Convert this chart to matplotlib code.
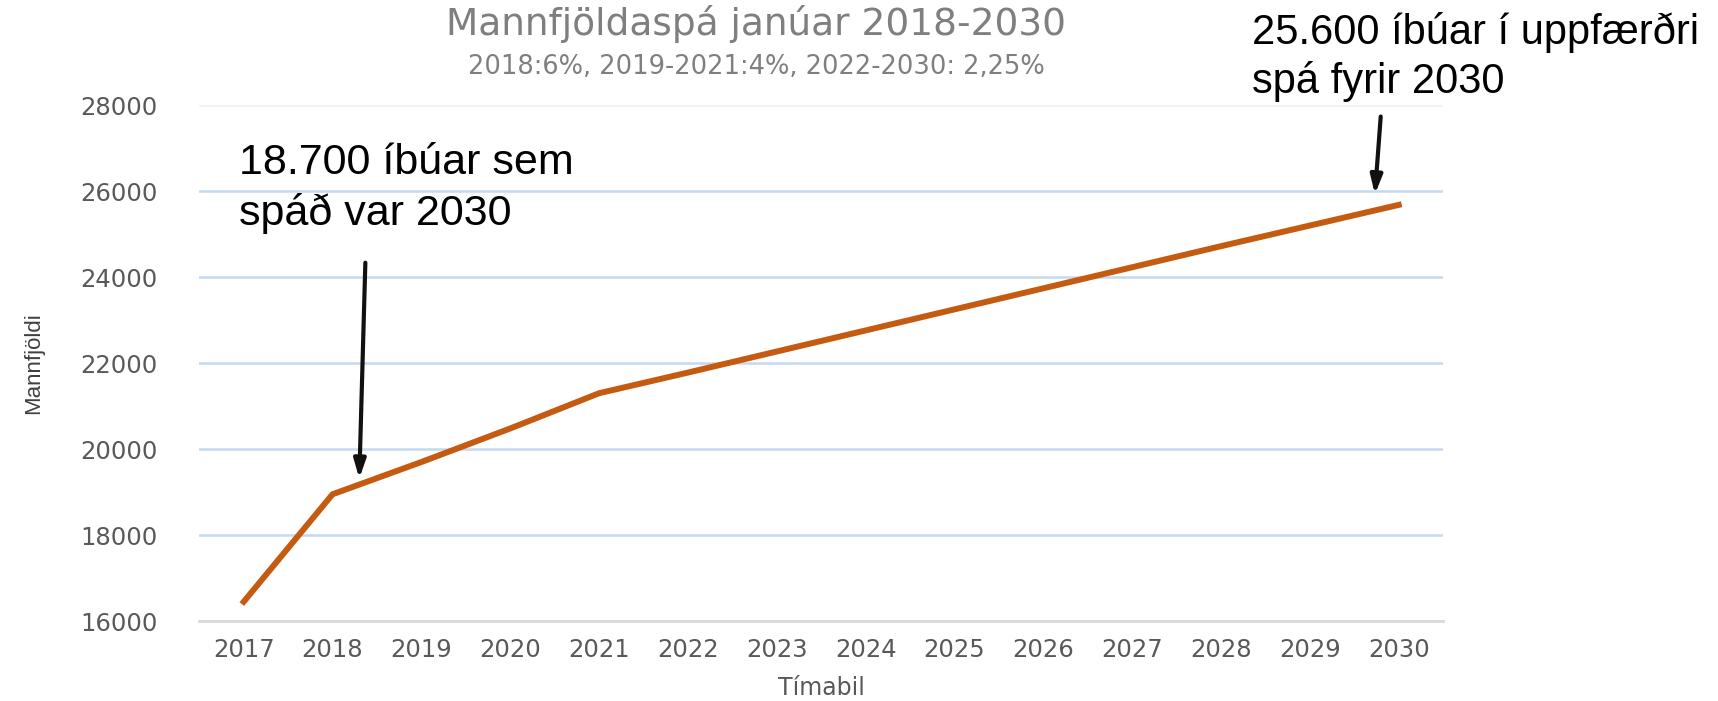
import matplotlib
matplotlib.use("Agg")
import matplotlib.pyplot as plt

years = list(range(2017, 2031))
population = [16450, 18950, 19700, 20480, 21300, 21780, 22270,
              22760, 23250, 23740, 24230, 24720, 25200, 25680]
y_ticks = [16000, 18000, 20000, 22000, 24000, 26000, 28000]

title = "Mannfjöldaspá janúar 2018-2030"
subtitle = "2018:6%, 2019-2021:4%, 2022-2030: 2,25%"
note_old = "18.700 íbúar sem\nspáð var 2030"
note_new = "25.600 íbúar í uppfærðri\nspá fyrir 2030"

fig = plt.figure(figsize=(17.18, 7.01), dpi=100)
ax = fig.add_axes([0.116, 0.114, 0.724, 0.736])

ax.plot(years, population, color="#C55A11", lw=4.3)

ax.set_xlim(2016.5, 2030.5)
ax.set_ylim(16000, 28000)
ax.set_xticks(years)
ax.set_yticks(y_ticks)
ax.tick_params(length=0, labelsize=17.5, labelcolor="#595959")
ax.tick_params(axis="x", pad=12)
ax.tick_params(axis="y", pad=30)
for s in ["top", "right", "left"]:
    ax.spines[s].set_visible(False)
ax.spines["bottom"].set_color("#d9d9d9")
ax.spines["bottom"].set_linewidth(2)
ax.grid(axis="y", color="#c5d9ee", lw=1.8)
ax.get_ygridlines()[-1].set_color("#eef3f8")
ax.set_axisbelow(True)

ax.set_xlabel("Tímabil", fontsize=17, color="#595959", labelpad=10)
ax.set_ylabel("Mannfjöldi", fontsize=16, color="#404040", family=["Liberation Sans"], labelpad=26)

fig.text(0.44, 0.966, title, ha="center", va="center", fontsize=27, color="#7f7f7f")
fig.text(0.44, 0.905, subtitle, ha="center", va="center", fontsize=18.5, color="#7f7f7f")

# annotations with arrows
arrow = dict(arrowstyle="-|>,head_length=1.1,head_width=0.35", color="#111111", lw=3)
ax.annotate("", xy=(2018.30, 19250), xytext=(2018.37, 24400), arrowprops=arrow)
ax.annotate("", xy=(2029.73, 25860), xytext=(2029.80, 27800), arrowprops=arrow)
fig.text(0.139, 0.731, note_old, ha="left", va="center", fontsize=31,
         family=["Liberation Sans"], linespacing=1.3)
fig.text(0.729, 0.918, note_new, ha="left", va="center", fontsize=30,
         family=["Liberation Sans"], linespacing=1.25)

fig.savefig("out.png", dpi=100)
